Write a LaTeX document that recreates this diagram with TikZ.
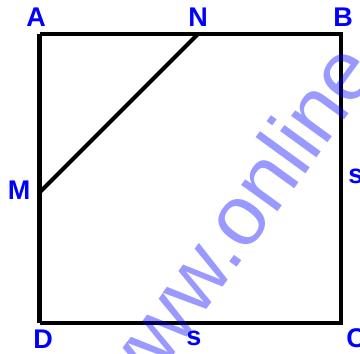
\documentclass[tikz,border=0pt]{standalone}
\usepackage{fontspec}
\setmainfont{Liberation Sans}
\usepackage{tikz}
\usetikzlibrary{positioning, calc}

\begin{document}
\begin{tikzpicture}[
  x=1pt, y=1pt,
  side/.style={line width=3.5pt, color=black},
  lbl/.style={font=\fontsize{27}{27}\selectfont\bfseries, text=blue,
    inner sep=0pt},
  wmark/.style={font=\fontsize{85}{85}\selectfont, text=blue,
    text opacity=0.4, inner sep=0pt, rotate=54, anchor=base west},
]
\clip (0,0) rectangle (360,354);

% Corners and points on the sides
\coordinate (A) at (40,320);
\coordinate (B) at (341,320);
\coordinate (C) at (341,31);
\coordinate (D) at (40,31);
\coordinate (N) at (198,320);
\coordinate (M) at (40,162);

% Square
\draw[side] (A) -- (B) -- (C) -- (D);
\draw[side, line width=5pt] (D) -- (A);

% Segment MN
\draw[line width=4pt] (M) -- (N);

% Labels
\node[lbl] (la) at (36,337) {A};
\node[lbl] (lb) at (343,337) {B};
\node[lbl] (lc) at (356,16) {C};
\node[lbl] (ld) at (43,15) {D};
\node[lbl] (ln) at (198,337) {N};
\node[lbl] (lm) at (19,164) {M};
\node[lbl] (ls1) at (194,16) {s};
\node[lbl] (ls2) at (356,178) {s};

% Watermark
\node[wmark] (wm) at (127,-65) {www.online};

\end{tikzpicture}
\end{document}
